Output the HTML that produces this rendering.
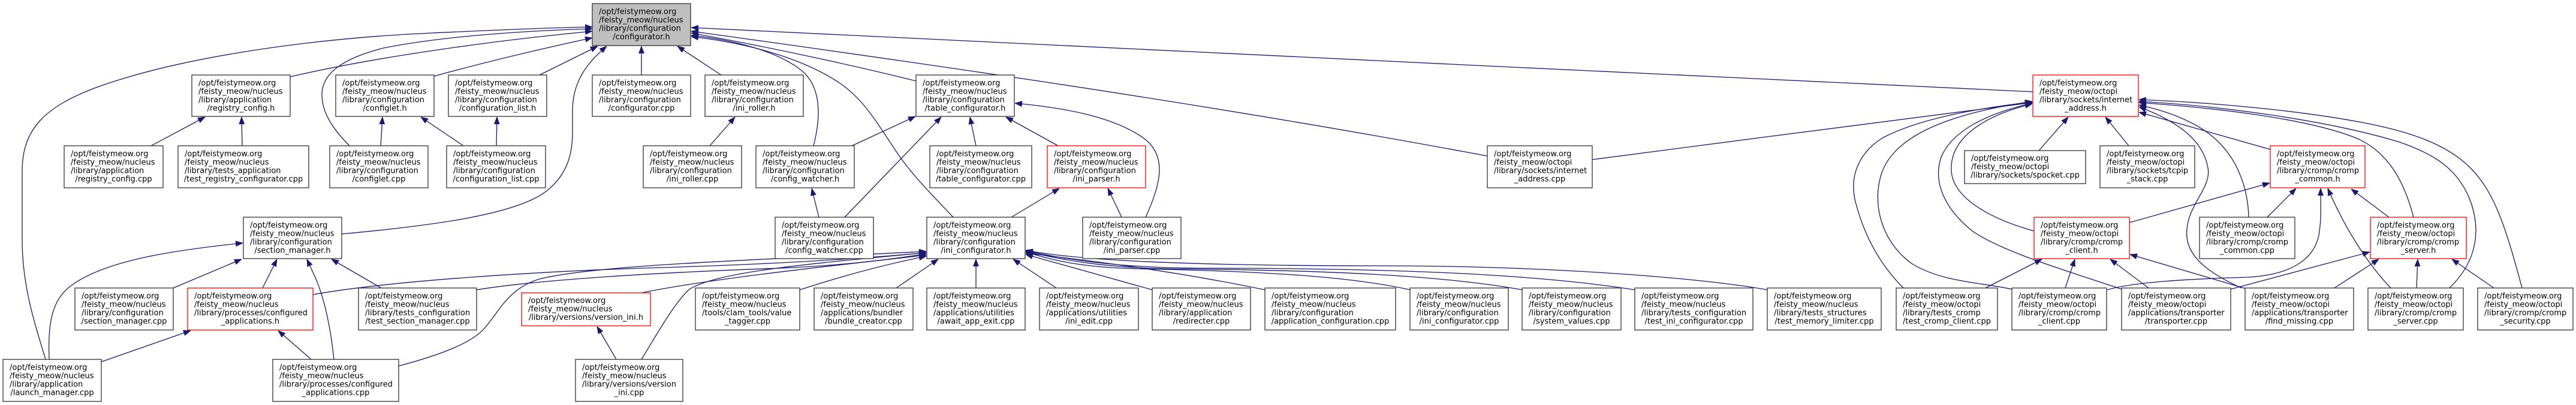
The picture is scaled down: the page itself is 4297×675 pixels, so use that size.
<!DOCTYPE html>
<html><head><meta charset="utf-8">
<style>
html,body{margin:0;padding:0;background:#fff;}
body{width:4297px;height:675px;overflow:hidden;}
svg{display:block;}
.e path{fill:none;stroke:#191970;stroke-width:1.3;marker-end:url(#ah);}
.n{fill:#fff;stroke:#333;stroke-width:1.3;}
.r{fill:#fff;stroke:#ff0000;stroke-width:1.3;}
.g{fill:#bfbfbf;stroke:#333;stroke-width:1.3;}
text{font-family:"DejaVu Sans","Liberation Sans",sans-serif;font-size:13px;fill:#000;}
.m{text-anchor:middle;}
</style></head>
<body>
<svg width="4297" height="675" viewBox="0 0 4297 675" xmlns="http://www.w3.org/2000/svg">
<defs>
<marker id="ah" viewBox="0 0 12 10" refX="12" refY="5" markerWidth="12" markerHeight="10" markerUnits="userSpaceOnUse" orient="auto">
<path d="M0,0.5 L12,5 L0,9.5 z" fill="#191970" stroke="#191970" stroke-width="0.8"/>
</marker>
</defs>
<g class="e">
<path d="M76,599 C60,545 37,480 37,400 L37,285 C37,215 75,178 160,146 C300,95 520,64 720,55 C830,50 920,46 988,45"/>
<path d="M484,128 C620,96 820,68 988,52"/>
<path d="M583,243 C556,216 537,188 537,158 C537,122 572,97 640,80 C740,60 880,51 988,48"/>
<path d="M724,127 C800,106 900,82 988,63"/>
<path d="M900,125 L997,77"/>
<path d="M570,390 C700,378 860,360 912,318 C950,288 955,250 955,220 L955,185 C955,140 975,108 1012,77"/>
<path d="M1070,125 L1070,77"/>
<path d="M1203,125 L1130,77"/>
<path d="M1357,243 C1368,200 1372,150 1340,120 C1300,85 1220,66 1153,59"/>
<path d="M1590,362 C1555,325 1525,295 1500,260 C1460,200 1440,165 1400,138 C1340,98 1250,72 1153,61"/>
<path d="M1528,135 C1420,108 1280,78 1153,55"/>
<path d="M3391,153 C2700,121 1700,72 1153,46"/>
<path d="M2481,260 C2000,170 1500,100 1153,52"/>
<path d="M252,243 L342,195"/>
<path d="M404,243 L403,195"/>
<path d="M635,243 L638,195"/>
<path d="M773,243 L702,195"/>
<path d="M828,243 L829,195"/>
<path d="M1184,243 L1226,195"/>
<path d="M1421,243 L1527,194"/>
<path d="M1409,362 L1570,195"/>
<path d="M1628,243 L1618,195"/>
<path d="M1765,243 L1678,195"/>
<path d="M1911,362 C1935,310 1948,262 1910,232 C1862,196 1780,180 1693,172"/>
<path d="M1366,362 L1354,314"/>
<path d="M1687,362 L1767,314"/>
<path d="M1871,362 L1848,314"/>
<path d="M289,480 L403,432"/>
<path d="M438,480 L462,432"/>
<path d="M557,599 C552,550 542,500 527,465 L512,432"/>
<path d="M636,480 L553,432"/>
<path d="M82,599 C80,540 85,500 120,475 C180,432 300,416 405,405"/>
<path d="M169,603 L318,551"/>
<path d="M519,599 L464,551"/>
<path d="M1028,599 L996,544"/>
<path d="M522,491 C650,468 900,452 1100,446 C1300,440 1450,430 1545,421"/>
<path d="M795,483 C900,466 1100,454 1300,447 C1420,442 1500,430 1545,423"/>
<path d="M1070,488 C1200,462 1400,442 1545,425"/>
<path d="M665,610 C740,590 790,570 810,545 C835,515 850,480 900,465 C1000,440 1300,432 1545,419"/>
<path d="M1070,599 C1100,550 1125,505 1150,482 C1200,452 1350,440 1545,421"/>
<path d="M1334,483 C1420,455 1490,438 1545,427"/>
<path d="M1495,480 L1565,432"/>
<path d="M1628,480 L1628,432"/>
<path d="M1762,480 L1690,432"/>
<path d="M1922,483 L1711,424"/>
<path d="M2110,483 C1950,450 1800,432 1711,422"/>
<path d="M2352,483 C2250,460 2100,452 1900,448 C1800,446 1750,432 1711,420"/>
<path d="M2539,483 C2400,458 2200,450 1950,448 C1830,446 1760,430 1711,419"/>
<path d="M2727,483 C2550,455 2300,447 2000,447 C1850,446 1770,430 1711,418"/>
<path d="M2948,483 C2850,465 2600,443 2300,443 C2000,443 1800,435 1711,417"/>
<path d="M2656,266 C2900,235 3150,200 3390,171"/>
<path d="M3401,251 L3450,195"/>
<path d="M3551,243 L3512,195"/>
<path d="M3787,249 L3568,187"/>
<path d="M3393,385 C3320,365 3258,330 3255,285 C3252,235 3300,195 3390,173"/>
<path d="M3175,480 C3140,445 3112,400 3096,340 C3082,290 3105,252 3140,230 C3200,198 3300,180 3390,170"/>
<path d="M3356,482 C3300,470 3240,470 3190,440 C3140,405 3120,340 3140,285 C3165,222 3260,188 3390,169"/>
<path d="M3539,482 C3450,452 3340,420 3290,385 C3240,345 3225,300 3238,262 C3255,220 3310,190 3390,172"/>
<path d="M3739,480 C3690,458 3652,432 3648,396 C3643,345 3690,315 3683,280 C3676,238 3640,205 3568,178"/>
<path d="M3751,362 C3750,318 3735,270 3700,236 C3670,206 3620,186 3568,175"/>
<path d="M4026,362 C4010,300 3982,252 3930,230 C3850,198 3700,180 3568,171"/>
<path d="M4086,480 C4122,445 4142,398 4122,338 C4102,282 4060,256 4000,236 C3880,200 3700,176 3568,169"/>
<path d="M4207,480 C4180,380 4162,322 4122,281 C4082,240 4020,220 3950,206 C3850,186 3700,171 3568,166"/>
<path d="M3552,371 L3786,305"/>
<path d="M3782,362 L3830,314"/>
<path d="M3515,483 C3560,470 3650,465 3750,462 C3822,458 3860,432 3868,392 C3873,362 3871,340 3871,314"/>
<path d="M3988,480 C3950,440 3912,382 3883,314"/>
<path d="M3985,362 L3922,315"/>
<path d="M3721,482 L3953,420"/>
<path d="M3894,480 L3968,432"/>
<path d="M4031,480 L4033,432"/>
<path d="M4160,480 L4090,432"/>
<path d="M3746,481 L3553,424"/>
<path d="M3584,480 L3520,432"/>
<path d="M3312,480 L3406,432"/>
<path d="M3445,480 L3461,432"/>
</g>

<!-- Row 1 -->
<rect class="g" x="988" y="6" width="164" height="70"/>
<text x="999" y="23.5">/opt/feistymeow.org</text><text x="999" y="37.5">/feisty_meow/nucleus</text><text x="999" y="51.5">/library/configuration</text><text class="m" x="1070" y="65.5">/configurator.h</text>

<!-- Row 2 -->
<rect class="n" x="320" y="125" width="164" height="69"/>
<text x="331" y="142.5">/opt/feistymeow.org</text><text x="331" y="156.5">/feisty_meow/nucleus</text><text x="331" y="170.5">/library/application</text><text class="m" x="402" y="184.5">/registry_config.h</text>

<rect class="n" x="560" y="125" width="164" height="69"/>
<text x="571" y="142.5">/opt/feistymeow.org</text><text x="571" y="156.5">/feisty_meow/nucleus</text><text x="571" y="170.5">/library/configuration</text><text class="m" x="642" y="184.5">/configlet.h</text>

<rect class="n" x="748" y="125" width="164" height="69"/>
<text x="759" y="142.5">/opt/feistymeow.org</text><text x="759" y="156.5">/feisty_meow/nucleus</text><text x="759" y="170.5">/library/configuration</text><text class="m" x="830" y="184.5">/configuration_list.h</text>

<rect class="n" x="988" y="125" width="164" height="69"/>
<text x="999" y="142.5">/opt/feistymeow.org</text><text x="999" y="156.5">/feisty_meow/nucleus</text><text x="999" y="170.5">/library/configuration</text><text class="m" x="1070" y="184.5">/configurator.cpp</text>

<rect class="n" x="1176" y="125" width="164" height="69"/>
<text x="1187" y="142.5">/opt/feistymeow.org</text><text x="1187" y="156.5">/feisty_meow/nucleus</text><text x="1187" y="170.5">/library/configuration</text><text class="m" x="1258" y="184.5">/ini_roller.h</text>

<rect class="n" x="1528" y="125" width="164" height="69"/>
<text x="1539" y="142.5">/opt/feistymeow.org</text><text x="1539" y="156.5">/feisty_meow/nucleus</text><text x="1539" y="170.5">/library/configuration</text><text class="m" x="1610" y="184.5">/table_configurator.h</text>

<rect class="r" x="3391" y="125" width="176" height="69"/>
<text x="3402" y="142.5">/opt/feistymeow.org</text><text x="3402" y="156.5">/feisty_meow/octopi</text><text x="3402" y="170.5">/library/sockets/internet</text><text class="m" x="3479" y="184.5">_address.h</text>

<!-- Row 3 -->
<rect class="n" x="107" y="243" width="165" height="70"/>
<text x="118" y="260.5">/opt/feistymeow.org</text><text x="118" y="274.5">/feisty_meow/nucleus</text><text x="118" y="288.5">/library/application</text><text class="m" x="189.5" y="302.5">/registry_config.cpp</text>

<rect class="n" x="297" y="243" width="218" height="70"/>
<text x="308" y="260.5">/opt/feistymeow.org</text><text x="308" y="274.5">/feisty_meow/nucleus</text><text x="308" y="288.5">/library/tests_application</text><text class="m" x="406" y="302.5">/test_registry_configurator.cpp</text>

<rect class="n" x="550" y="243" width="164" height="70"/>
<text x="561" y="260.5">/opt/feistymeow.org</text><text x="561" y="274.5">/feisty_meow/nucleus</text><text x="561" y="288.5">/library/configuration</text><text class="m" x="632" y="302.5">/configlet.cpp</text>

<rect class="n" x="745" y="243" width="165" height="70"/>
<text x="756" y="260.5">/opt/feistymeow.org</text><text x="756" y="274.5">/feisty_meow/nucleus</text><text x="756" y="288.5">/library/configuration</text><text class="m" x="827.5" y="302.5">/configuration_list.cpp</text>

<rect class="n" x="1073" y="243" width="164" height="70"/>
<text x="1084" y="260.5">/opt/feistymeow.org</text><text x="1084" y="274.5">/feisty_meow/nucleus</text><text x="1084" y="288.5">/library/configuration</text><text class="m" x="1155" y="302.5">/ini_roller.cpp</text>

<rect class="n" x="1261" y="243" width="164" height="70"/>
<text x="1272" y="260.5">/opt/feistymeow.org</text><text x="1272" y="274.5">/feisty_meow/nucleus</text><text x="1272" y="288.5">/library/configuration</text><text class="m" x="1343" y="302.5">/config_watcher.h</text>

<rect class="n" x="1551" y="243" width="170" height="70"/>
<text x="1562" y="260.5">/opt/feistymeow.org</text><text x="1562" y="274.5">/feisty_meow/nucleus</text><text x="1562" y="288.5">/library/configuration</text><text class="m" x="1636" y="302.5">/table_configurator.cpp</text>

<rect class="r" x="1747" y="243" width="164" height="70"/>
<text x="1758" y="260.5">/opt/feistymeow.org</text><text x="1758" y="274.5">/feisty_meow/nucleus</text><text x="1758" y="288.5">/library/configuration</text><text class="m" x="1829" y="302.5">/ini_parser.h</text>

<rect class="n" x="2481" y="243" width="175" height="70"/>
<text x="2492" y="260.5">/opt/feistymeow.org</text><text x="2492" y="274.5">/feisty_meow/octopi</text><text x="2492" y="288.5">/library/sockets/internet</text><text class="m" x="2568.5" y="302.5">_address.cpp</text>

<rect class="n" x="3277" y="251" width="202" height="55"/>
<text x="3288" y="268">/opt/feistymeow.org</text><text x="3288" y="282">/feisty_meow/octopi</text><text class="m" x="3378" y="296">/library/sockets/spocket.cpp</text>

<rect class="n" x="3503" y="243" width="158" height="70"/>
<text x="3514" y="260.5">/opt/feistymeow.org</text><text x="3514" y="274.5">/feisty_meow/octopi</text><text x="3514" y="288.5">/library/sockets/tcpip</text><text class="m" x="3582" y="302.5">_stack.cpp</text>

<rect class="r" x="3787" y="243" width="158" height="70"/>
<text x="3798" y="260.5">/opt/feistymeow.org</text><text x="3798" y="274.5">/feisty_meow/octopi</text><text x="3798" y="288.5">/library/cromp/cromp</text><text class="m" x="3866" y="302.5">_common.h</text>

<!-- Row 4 -->
<rect class="n" x="406" y="362" width="164" height="69"/>
<text x="417" y="379.5">/opt/feistymeow.org</text><text x="417" y="393.5">/feisty_meow/nucleus</text><text x="417" y="407.5">/library/configuration</text><text class="m" x="488" y="421.5">/section_manager.h</text>

<rect class="n" x="1293" y="362" width="164" height="69"/>
<text x="1304" y="379.5">/opt/feistymeow.org</text><text x="1304" y="393.5">/feisty_meow/nucleus</text><text x="1304" y="407.5">/library/configuration</text><text class="m" x="1375" y="421.5">/config_watcher.cpp</text>

<rect class="n" x="1546" y="362" width="164" height="69"/>
<text x="1557" y="379.5">/opt/feistymeow.org</text><text x="1557" y="393.5">/feisty_meow/nucleus</text><text x="1557" y="407.5">/library/configuration</text><text class="m" x="1628" y="421.5">/ini_configurator.h</text>

<rect class="n" x="1806" y="362" width="164" height="69"/>
<text x="1817" y="379.5">/opt/feistymeow.org</text><text x="1817" y="393.5">/feisty_meow/nucleus</text><text x="1817" y="407.5">/library/configuration</text><text class="m" x="1888" y="421.5">/ini_parser.cpp</text>

<rect class="r" x="3393" y="362" width="159" height="69"/>
<text x="3404" y="379.5">/opt/feistymeow.org</text><text x="3404" y="393.5">/feisty_meow/octopi</text><text x="3404" y="407.5">/library/cromp/cromp</text><text class="m" x="3472.5" y="421.5">_client.h</text>

<rect class="n" x="3669" y="362" width="159" height="69"/>
<text x="3680" y="379.5">/opt/feistymeow.org</text><text x="3680" y="393.5">/feisty_meow/octopi</text><text x="3680" y="407.5">/library/cromp/cromp</text><text class="m" x="3748.5" y="421.5">_common.cpp</text>

<rect class="r" x="3954" y="362" width="160" height="69"/>
<text x="3965" y="379.5">/opt/feistymeow.org</text><text x="3965" y="393.5">/feisty_meow/octopi</text><text x="3965" y="407.5">/library/cromp/cromp</text><text class="m" x="4034" y="421.5">_server.h</text>

<!-- Row 5 -->
<rect class="n" x="125" y="480" width="164" height="70"/>
<text x="136" y="497.5">/opt/feistymeow.org</text><text x="136" y="511.5">/feisty_meow/nucleus</text><text x="136" y="525.5">/library/configuration</text><text class="m" x="207" y="539.5">/section_manager.cpp</text>

<rect class="r" x="313" y="480" width="209" height="70"/>
<text x="324" y="497.5">/opt/feistymeow.org</text><text x="324" y="511.5">/feisty_meow/nucleus</text><text x="324" y="525.5">/library/processes/configured</text><text class="m" x="417.5" y="539.5">_applications.h</text>

<rect class="n" x="598" y="480" width="197" height="70"/>
<text x="609" y="497.5">/opt/feistymeow.org</text><text x="609" y="511.5">/feisty_meow/nucleus</text><text x="609" y="525.5">/library/tests_configuration</text><text class="m" x="696.5" y="539.5">/test_section_manager.cpp</text>

<rect class="r" x="870" y="488" width="215" height="55"/>
<text x="881" y="505">/opt/feistymeow.org</text><text x="881" y="519">/feisty_meow/nucleus</text><text class="m" x="977.5" y="533">/library/versions/version_ini.h</text>

<rect class="n" x="1160" y="480" width="174" height="70"/>
<text x="1171" y="497.5">/opt/feistymeow.org</text><text x="1171" y="511.5">/feisty_meow/nucleus</text><text x="1171" y="525.5">/tools/clam_tools/value</text><text class="m" x="1247" y="539.5">_tagger.cpp</text>

<rect class="n" x="1358" y="480" width="165" height="70"/>
<text x="1369" y="497.5">/opt/feistymeow.org</text><text x="1369" y="511.5">/feisty_meow/nucleus</text><text x="1369" y="525.5">/applications/bundler</text><text class="m" x="1440.5" y="539.5">/bundle_creator.cpp</text>

<rect class="n" x="1546" y="480" width="164" height="70"/>
<text x="1557" y="497.5">/opt/feistymeow.org</text><text x="1557" y="511.5">/feisty_meow/nucleus</text><text x="1557" y="525.5">/applications/utilities</text><text class="m" x="1628" y="539.5">/await_app_exit.cpp</text>

<rect class="n" x="1734" y="480" width="165" height="70"/>
<text x="1745" y="497.5">/opt/feistymeow.org</text><text x="1745" y="511.5">/feisty_meow/nucleus</text><text x="1745" y="525.5">/applications/utilities</text><text class="m" x="1816.5" y="539.5">/ini_edit.cpp</text>

<rect class="n" x="1922" y="480" width="164" height="70"/>
<text x="1933" y="497.5">/opt/feistymeow.org</text><text x="1933" y="511.5">/feisty_meow/nucleus</text><text x="1933" y="525.5">/library/application</text><text class="m" x="2004" y="539.5">/redirecter.cpp</text>

<rect class="n" x="2110" y="480" width="218" height="70"/>
<text x="2121" y="497.5">/opt/feistymeow.org</text><text x="2121" y="511.5">/feisty_meow/nucleus</text><text x="2121" y="525.5">/library/configuration</text><text class="m" x="2219" y="539.5">/application_configuration.cpp</text>

<rect class="n" x="2352" y="480" width="164" height="70"/>
<text x="2363" y="497.5">/opt/feistymeow.org</text><text x="2363" y="511.5">/feisty_meow/nucleus</text><text x="2363" y="525.5">/library/configuration</text><text class="m" x="2434" y="539.5">/ini_configurator.cpp</text>

<rect class="n" x="2539" y="480" width="165" height="70"/>
<text x="2550" y="497.5">/opt/feistymeow.org</text><text x="2550" y="511.5">/feisty_meow/nucleus</text><text x="2550" y="525.5">/library/configuration</text><text class="m" x="2621.5" y="539.5">/system_values.cpp</text>

<rect class="n" x="2727" y="480" width="197" height="70"/>
<text x="2738" y="497.5">/opt/feistymeow.org</text><text x="2738" y="511.5">/feisty_meow/nucleus</text><text x="2738" y="525.5">/library/tests_configuration</text><text class="m" x="2825.5" y="539.5">/test_ini_configurator.cpp</text>

<rect class="n" x="2948" y="480" width="190" height="70"/>
<text x="2959" y="497.5">/opt/feistymeow.org</text><text x="2959" y="511.5">/feisty_meow/nucleus</text><text x="2959" y="525.5">/library/tests_structures</text><text class="m" x="3043" y="539.5">/test_memory_limiter.cpp</text>

<rect class="n" x="3163" y="480" width="169" height="70"/>
<text x="3174" y="497.5">/opt/feistymeow.org</text><text x="3174" y="511.5">/feisty_meow/octopi</text><text x="3174" y="525.5">/library/tests_cromp</text><text class="m" x="3247.5" y="539.5">/test_cromp_client.cpp</text>

<rect class="n" x="3356" y="480" width="158" height="70"/>
<text x="3367" y="497.5">/opt/feistymeow.org</text><text x="3367" y="511.5">/feisty_meow/octopi</text><text x="3367" y="525.5">/library/cromp/cromp</text><text class="m" x="3435" y="539.5">_client.cpp</text>

<rect class="n" x="3539" y="480" width="182" height="70"/>
<text x="3550" y="497.5">/opt/feistymeow.org</text><text x="3550" y="511.5">/feisty_meow/octopi</text><text x="3550" y="525.5">/applications/transporter</text><text class="m" x="3630" y="539.5">/transporter.cpp</text>

<rect class="n" x="3745" y="480" width="181" height="70"/>
<text x="3756" y="497.5">/opt/feistymeow.org</text><text x="3756" y="511.5">/feisty_meow/octopi</text><text x="3756" y="525.5">/applications/transporter</text><text class="m" x="3835.5" y="539.5">/find_missing.cpp</text>

<rect class="n" x="3950" y="480" width="159" height="70"/>
<text x="3961" y="497.5">/opt/feistymeow.org</text><text x="3961" y="511.5">/feisty_meow/octopi</text><text x="3961" y="525.5">/library/cromp/cromp</text><text class="m" x="4029.5" y="539.5">_server.cpp</text>

<rect class="n" x="4133" y="480" width="159" height="70"/>
<text x="4144" y="497.5">/opt/feistymeow.org</text><text x="4144" y="511.5">/feisty_meow/octopi</text><text x="4144" y="525.5">/library/cromp/cromp</text><text class="m" x="4212.5" y="539.5">_security.cpp</text>

<!-- Row 6 -->
<rect class="n" x="5" y="599" width="164" height="70"/>
<text x="16" y="616.5">/opt/feistymeow.org</text><text x="16" y="630.5">/feisty_meow/nucleus</text><text x="16" y="644.5">/library/application</text><text class="m" x="87" y="658.5">/launch_manager.cpp</text>

<rect class="n" x="455" y="599" width="210" height="70"/>
<text x="466" y="616.5">/opt/feistymeow.org</text><text x="466" y="630.5">/feisty_meow/nucleus</text><text x="466" y="644.5">/library/processes/configured</text><text class="m" x="560" y="658.5">_applications.cpp</text>

<rect class="n" x="960" y="599" width="179" height="70"/>
<text x="971" y="616.5">/opt/feistymeow.org</text><text x="971" y="630.5">/feisty_meow/nucleus</text><text x="971" y="644.5">/library/versions/version</text><text class="m" x="1049.5" y="658.5">_ini.cpp</text>
</svg>
</body></html>
